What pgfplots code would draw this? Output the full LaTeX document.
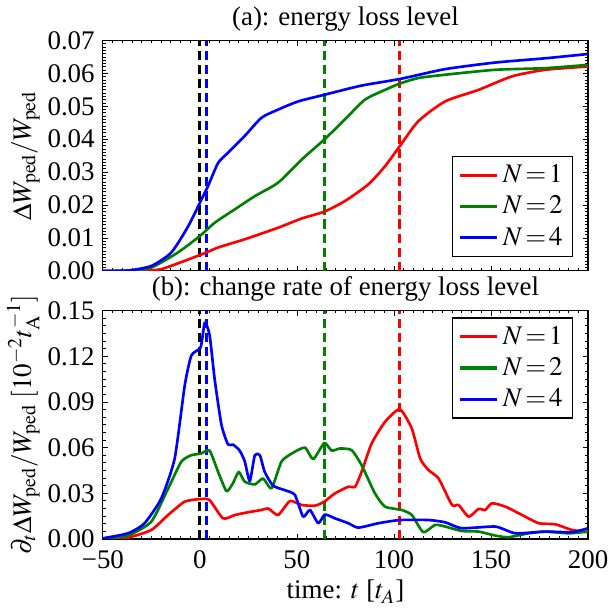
\documentclass[border=0pt]{standalone}
\usepackage{mathptmx}
\usepackage{fontspec}
\setmainfont{Liberation Serif}
\usepackage{pgfplots}
\pgfplotsset{compat=1.18}
\definecolor{mgreen}{RGB}{0,128,0}
\pgfplotsset{
  myax/.style={
    scale only axis, width=238pt,
    xmin=-50, xmax=200,
    xtick={-50,0,50,100,150,200},
    minor x tick num=9,
    tick align=inside, ticks=both,
    xtick pos=both, ytick pos=both,
    major tick length=2.5pt, minor tick length=1.3pt,
    tick style={black, line width=0.4pt},
    axis line style={line width=0.6pt},
    scaled y ticks=false,
    /pgf/number format/assume math mode=true,
    yticklabel style={/pgf/number format/fixed, /pgf/number format/precision=2, /pgf/number format/fixed zerofill, xshift=-0.5pt},
    every tick label/.append style={font=\fontsize{13.2}{15}\selectfont},
    label style={font=\fontsize{13.2}{15}\selectfont},
    title style={font=\fontsize{13.2}{15}\selectfont, yshift=-5pt},
    legend cell align=right,
    legend style={font=\fontsize{13.2}{15}\selectfont, draw=black, line width=0.6pt, inner xsep=3pt, inner ysep=2pt, row sep=1pt},
    legend image code/.code={\draw[#1, line width=1.5pt] (0pt,0pt) -- (18pt,0pt);},
  },
  cur/.style={line width=1.3pt, line join=round},
  vl/.style={line width=1.5pt, dash pattern=on 4.5pt off 2.4pt, forget plot},
}
\begin{document}
\begin{tikzpicture}
\begin{axis}[myax, name=top, height=113pt,
  ymin=0, ymax=0.07, ytick={0,0.01,...,0.07}, minor y tick num=9,
  xticklabels={},
  title={(a): energy loss level},
  ylabel={$\Delta W_{\mathrm{ped}}/W_{\mathrm{ped}}$},
  ylabel style={yshift=-3pt},
  legend style={at={(0.97,0.06)}, anchor=south east}]
\addplot[vl, black] coordinates {(0,0) (0,0.07)};
\addplot[vl, blue] coordinates {(3.4,0) (3.4,0.07)};
\addplot[vl, mgreen] coordinates {(64,0) (64,0.07)};
\addplot[vl, red] coordinates {(103,0) (103,0.07)};
\addplot[cur, red, smooth, tension=0.4] coordinates {
(-50,0) (-35,0) (-28,0.0001) (-20,0.0005) (-8,0.003) (3.4,0.0056) (9.4,0.0071) (23.1,0.0096)
(40.3,0.0131) (52.4,0.0159) (64.1,0.018) (74.7,0.0212) (86.8,0.0263) (95.4,0.0318)
(103,0.0379) (112.6,0.0455) (126.4,0.0515) (143.6,0.055) (160.8,0.0591) (178,0.0611) (200,0.0621)};
\addlegendentry{$N\!=\!1$}
\addplot[cur, mgreen, smooth, tension=0.4] coordinates {
(-50,0) (-35,0.0001) (-25,0.001) (-11.3,0.0056) (0,0.0106) (7.6,0.0146) (18,0.0187) (28.3,0.0227)
(40.3,0.0268) (52.4,0.0338) (64.1,0.0399) (74.7,0.046) (85,0.052) (95.4,0.055)
(103,0.0569) (112.6,0.0586) (126.4,0.0596) (152.2,0.0611) (178,0.0616) (200,0.0626)};
\addlegendentry{$N\!=\!2$}
\addplot[cur, blue, smooth, tension=0.4] coordinates {
(-50,0) (-37,0.0001) (-25,0.0015) (-14.7,0.0056) (-6,0.0136) (0,0.0207) (4.2,0.0258)
(9.4,0.0328) (14.5,0.0359) (23.1,0.041) (31.7,0.0465) (40.3,0.049) (50.7,0.0515)
(64.1,0.0535) (83.3,0.0563) (103,0.0583) (126.4,0.0613) (152.2,0.0633) (178,0.0646) (200,0.0659)};
\addlegendentry{$N\!=\!4$}
\end{axis}
\begin{axis}[myax, at={(top.south)}, anchor=north, yshift=-19.5pt, height=112pt,
  ymin=0, ymax=0.15, ytick={0,0.03,...,0.15}, minor y tick num=5,
  xticklabels={−50,0,50,100,150,200},
  title={(b): change rate of energy loss level},
  xlabel={time: $t$ [$t_A$]},
  ylabel={$\partial_t\Delta W_{\mathrm{ped}}/W_{\mathrm{ped}}\ [10^{-2}t_{\mathrm{A}}^{-1}]$},
  ylabel style={yshift=-3pt},
  xlabel style={yshift=1pt},
  xticklabel style={yshift=-2pt},
  legend style={at={(0.97,0.97)}, anchor=north east}]
\addplot[vl, black] coordinates {(0,0) (0,0.15)};
\addplot[vl, blue] coordinates {(3.4,0) (3.4,0.15)};
\addplot[vl, mgreen] coordinates {(64,0) (64,0.15)};
\addplot[vl, red] coordinates {(103,0) (103,0.15)};
\addplot[cur, red, smooth, tension=0.35] coordinates {
(-50,0.0002) (-37,0.0009) (-25,0.0059) (-16.4,0.0157) (-7.8,0.0245) (0.4,0.0262) (5,0.0255)
(11.9,0.0135) (18,0.0157) (24.8,0.0175) (31.7,0.019) (35.2,0.020) (40.3,0.0157)
(46.4,0.0249) (52.4,0.0223) (59.3,0.0218) (64.1,0.0245) (69.6,0.0299) (76.5,0.0343)
(80,0.0343) (83.3,0.044) (88.5,0.0627) (95.4,0.0769) (103,0.0852) (109.2,0.0725)
(113.5,0.0528) (117.8,0.0452) (123,0.0397) (129.9,0.0223) (133.3,0.0223) (138.5,0.0146)
(143.6,0.0197) (147,0.019) (150.5,0.0234) (157.4,0.0212) (166,0.0157) (174.6,0.0103)
(183.1,0.0096) (191.7,0.0059) (200,0.0044)};
\addlegendentry{$N\!=\!1$}
\addplot[cur, mgreen, smooth, tension=0.35] coordinates {
(-50,0.0003) (-37,0.0022) (-25,0.0114) (-16.4,0.033) (-9.6,0.0507) (-4.4,0.055) (0.4,0.056)
(5,0.058) (9.4,0.044) (13.7,0.0314) (17,0.0365) (20,0.044) (23.1,0.0376) (28.3,0.0358)
(32.6,0.0397) (36.9,0.0332) (42,0.0507) (47.2,0.056) (54.1,0.060) (58.4,0.0524)
(64.1,0.063) (67.9,0.058) (72.2,0.0594) (78.2,0.0583) (83.3,0.0485) (90.2,0.0299)
(95.4,0.0212) (104,0.019) (109.2,0.0157) (115.1,0.0044) (121.2,0.0092) (126.4,0.0081)
(135,0.0052) (143.6,0.0048) (152.2,0.0022) (159,0.0011) (169.4,0.0037) (178,0.0048)
(190,0.0037) (200,0.0048)};
\addlegendentry{$N\!=\!2$}
\addplot[cur, blue, smooth, tension=0.35] coordinates {
(-50,0.0004) (-37,0.0037) (-28.5,0.0103) (-19.9,0.0266) (-13,0.0528) (-7.8,0.1009)
(-4.4,0.1205) (0.4,0.126) (2.5,0.142) (5,0.134) (7.6,0.105) (11.1,0.075) (14.5,0.062)
(17,0.062) (20.5,0.058) (23.1,0.051) (25.7,0.038) (28.3,0.055) (30.9,0.055) (33.4,0.044)
(37.7,0.035) (43.8,0.032) (48.9,0.029) (53.2,0.0146) (56.7,0.019) (61,0.0103)
(64.4,0.016) (69.6,0.0135) (76.5,0.0103) (81.6,0.0074) (92,0.0103) (103,0.0124)
(117.8,0.0124) (126.4,0.0109) (135,0.007) (152.2,0.0081) (162.5,0.0037) (178,0.0048)
(191.7,0.0044) (200,0.007)};
\addlegendentry{$N\!=\!4$}
\end{axis}
\end{tikzpicture}
\end{document}
